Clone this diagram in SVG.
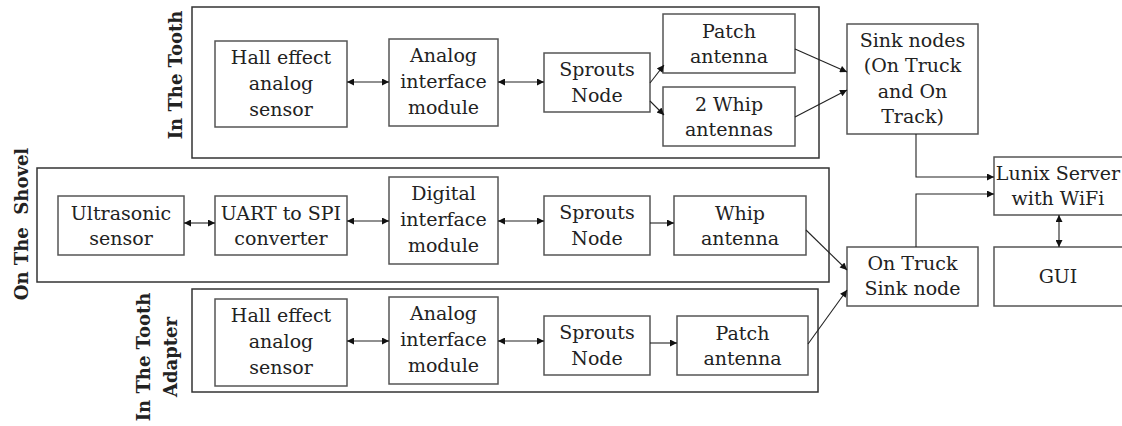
<svg xmlns="http://www.w3.org/2000/svg" width="1122" height="426" viewBox="0 0 1122 426">
<style>
.box{fill:#fff;stroke:#555;stroke-width:1.5}
.cont{fill:none;stroke:#333;stroke-width:1.5}
.t{font-family:"DejaVu Serif","Liberation Serif",serif;font-size:19px;fill:#222;text-anchor:middle}
.lbl{font-family:"DejaVu Serif","Liberation Serif",serif;font-size:18px;font-weight:bold;fill:#222;text-anchor:middle}
.c{fill:none;stroke:#222;stroke-width:1.1}
</style>
<defs>
<marker id="a" viewBox="0 0 10 10" refX="10" refY="5" markerWidth="9" markerHeight="7" markerUnits="userSpaceOnUse" orient="auto-start-reverse">
<path d="M0,0 L10,5 L0,10 z" fill="#111"/>
</marker>
</defs>

<g id="containers">
<rect class="cont" x="192" y="7" width="627" height="151"/>
<rect class="cont" x="37" y="168" width="792" height="114"/>
<rect class="cont" x="192" y="289" width="626" height="103"/>
<text class="lbl" transform="translate(182,75) rotate(-90)">In The Tooth</text>
<text class="lbl" xml:space="preserve" transform="translate(28,224) rotate(-90)">On The  Shovel</text>
<text class="lbl" transform="translate(150,357) rotate(-90)">In The Tooth</text>
<text class="lbl" transform="translate(177,357) rotate(-90)">Adapter</text>
</g>

<g id="t_hall"><rect class="box" x="215" y="41" width="132" height="86"/>
<text class="t" x="281" y="64">Hall effect</text><text class="t" x="281" y="90">analog</text><text class="t" x="281" y="116">sensor</text></g>
<g id="t_analog"><rect class="box" x="389" y="39" width="109" height="87"/>
<text class="t" x="443.5" y="62">Analog</text><text class="t" x="443.5" y="88">interface</text><text class="t" x="443.5" y="114">module</text></g>
<g id="t_sprouts"><rect class="box" x="544" y="53" width="106" height="59"/>
<text class="t" x="597" y="76">Sprouts</text><text class="t" x="597" y="102">Node</text></g>
<g id="t_patch"><rect class="box" x="663" y="14" width="132" height="59"/>
<text class="t" x="729" y="38">Patch</text><text class="t" x="729" y="63">antenna</text></g>
<g id="t_whip"><rect class="box" x="663" y="87" width="132" height="59"/>
<text class="t" x="729" y="111">2 Whip</text><text class="t" x="729" y="136">antennas</text></g>

<g id="sink"><rect class="box" x="847" y="24" width="131" height="110"/>
<text class="t" x="912.5" y="47">Sink nodes</text><text class="t" x="912.5" y="72">(On Truck</text><text class="t" x="912.5" y="98">and On</text><text class="t" x="912.5" y="123">Track)</text></g>
<g id="lunix"><rect class="box" x="994" y="157" width="132" height="58"/>
<text class="t" x="1058" y="180">Lunix Server</text><text class="t" x="1058" y="205">with WiFi</text></g>
<g id="gui"><rect class="box" x="994" y="247" width="132" height="59"/>
<text class="t" x="1058" y="283">GUI</text></g>
<g id="ontruck"><rect class="box" x="847" y="247" width="131" height="59"/>
<text class="t" x="912.5" y="270">On Truck</text><text class="t" x="912.5" y="295">Sink node</text></g>

<g id="s_ultra"><rect class="box" x="58" y="196" width="126" height="59"/>
<text class="t" x="121" y="220">Ultrasonic</text><text class="t" x="121" y="245">sensor</text></g>
<g id="s_uart"><rect class="box" x="215" y="196" width="132" height="59"/>
<text class="t" x="281" y="220">UART to SPI</text><text class="t" x="281" y="245">converter</text></g>
<g id="s_digital"><rect class="box" x="389" y="177" width="109" height="87"/>
<text class="t" x="443.5" y="200">Digital</text><text class="t" x="443.5" y="226">interface</text><text class="t" x="443.5" y="252">module</text></g>
<g id="s_sprouts"><rect class="box" x="544" y="196" width="106" height="59"/>
<text class="t" x="597" y="219">Sprouts</text><text class="t" x="597" y="245">Node</text></g>
<g id="s_whip"><rect class="box" x="674" y="196" width="132" height="59"/>
<text class="t" x="740" y="220">Whip</text><text class="t" x="740" y="245">antenna</text></g>

<g id="b_hall"><rect class="box" x="215" y="299" width="132" height="87"/>
<text class="t" x="281" y="322">Hall effect</text><text class="t" x="281" y="348">analog</text><text class="t" x="281" y="374">sensor</text></g>
<g id="b_analog"><rect class="box" x="389" y="297" width="109" height="87"/>
<text class="t" x="443.5" y="320">Analog</text><text class="t" x="443.5" y="346">interface</text><text class="t" x="443.5" y="372">module</text></g>
<g id="b_sprouts"><rect class="box" x="544" y="316" width="106" height="59"/>
<text class="t" x="597" y="339">Sprouts</text><text class="t" x="597" y="365">Node</text></g>
<g id="b_patch"><rect class="box" x="677" y="316" width="131" height="59"/>
<text class="t" x="742.5" y="340">Patch</text><text class="t" x="742.5" y="365">antenna</text></g>

<g id="connectors">
<line class="c" x1="347" y1="82" x2="389" y2="82" marker-start="url(#a)" marker-end="url(#a)"/>
<line class="c" x1="498" y1="82" x2="544" y2="82" marker-start="url(#a)" marker-end="url(#a)"/>
<line class="c" x1="650" y1="83" x2="664" y2="65" marker-end="url(#a)"/>
<line class="c" x1="650" y1="101" x2="664" y2="115" marker-end="url(#a)"/>
<line class="c" x1="795" y1="49" x2="847" y2="72" marker-end="url(#a)"/>
<line class="c" x1="795" y1="117" x2="847" y2="90" marker-end="url(#a)"/>
<polyline class="c" points="916,134 916,177 994,177" marker-end="url(#a)"/>
<polyline class="c" points="916,247 916,194 994,194" marker-end="url(#a)"/>
<line class="c" x1="1059" y1="215" x2="1059" y2="247" marker-start="url(#a)" marker-end="url(#a)"/>
<line class="c" x1="184" y1="223" x2="215" y2="223" marker-start="url(#a)" marker-end="url(#a)"/>
<line class="c" x1="347" y1="221" x2="389" y2="221" marker-start="url(#a)" marker-end="url(#a)"/>
<line class="c" x1="498" y1="221" x2="544" y2="221" marker-start="url(#a)" marker-end="url(#a)"/>
<line class="c" x1="650" y1="223" x2="674" y2="223" marker-end="url(#a)"/>
<line class="c" x1="806" y1="230" x2="847" y2="270" marker-end="url(#a)"/>
<line class="c" x1="347" y1="341" x2="389" y2="341" marker-start="url(#a)" marker-end="url(#a)"/>
<line class="c" x1="498" y1="341" x2="544" y2="341" marker-start="url(#a)" marker-end="url(#a)"/>
<line class="c" x1="650" y1="343" x2="677" y2="343" marker-end="url(#a)"/>
<line class="c" x1="808" y1="344" x2="847" y2="290" marker-end="url(#a)"/>
</g>
</svg>
